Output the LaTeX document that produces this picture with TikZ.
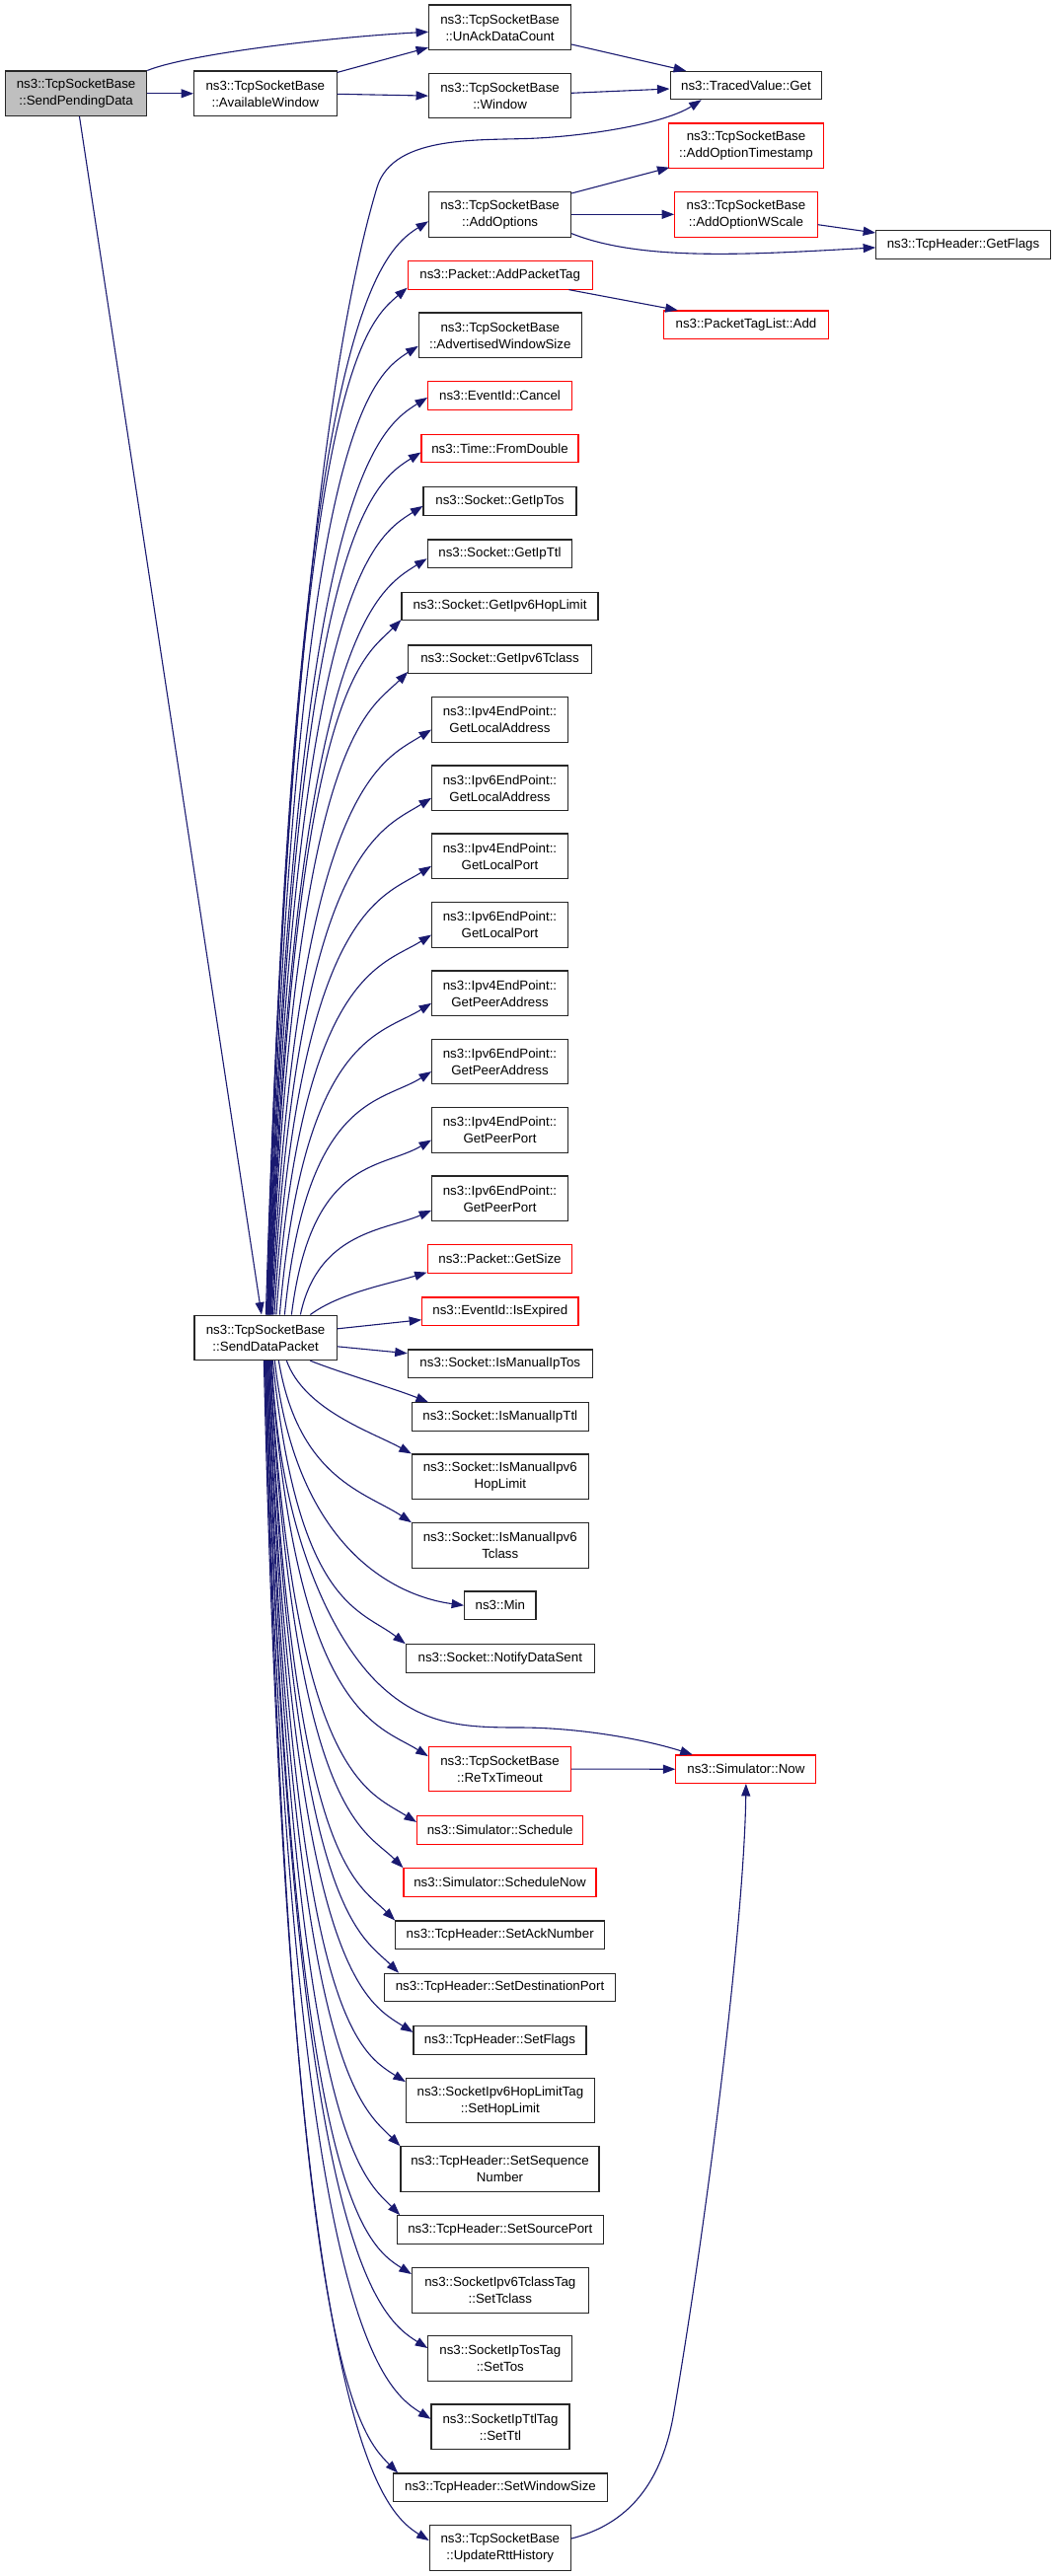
\documentclass[tikz,border=0pt]{standalone}
\usepackage{fontspec}
\newfontfamily\nodefont{Liberation Sans}
\usetikzlibrary{arrows.meta}
\definecolor{edgeblue}{HTML}{191970}
\definecolor{greyfill}{HTML}{BFBFBF}
\begin{document}
\begin{tikzpicture}[x=1pt,y=1pt,
  box/.style={draw=black!85, line width=1.1pt, fill=white, inner sep=0pt, align=center,
    font={\nodefont\fontsize{13.3pt}{17pt}\selectfont}},
  rbox/.style={box, draw=red},
  one/.style={minimum height=28.4pt},
  two/.style={minimum height=45.6pt},
  edge/.style={draw=edgeblue, line width=1.1pt, -{Triangle[length=12.5pt,width=9pt]}},
]
\useasboundingbox (0,0) rectangle (1069,-2611);
\fill[white] (0,0) rectangle (1069,-2611);

% ---------- nodes ----------
\node[box,two,fill=greyfill,minimum width=143.5pt] (SPD) at (77.1,-94.8) {ns3::TcpSocketBase\\::SendPendingData};
\node[box,two,minimum width=144.5pt] (AW) at (268.8,-94.8) {ns3::TcpSocketBase\\::AvailableWindow};
\node[box,two,minimum width=144pt] (UAD) at (506.6,-27.8) {ns3::TcpSocketBase\\::UnAckDataCount};
\node[box,two,minimum width=144pt] (WIN) at (506.6,-97.1) {ns3::TcpSocketBase\\::Window};
\node[box,one,minimum width=153.7pt] (TVG) at (755.9,-86.5) {ns3::TracedValue::Get};
\node[rbox,two,minimum width=156.6pt] (AOT) at (756,-147.8) {ns3::TcpSocketBase\\::AddOptionTimestamp};
\node[box,two,minimum width=144pt] (AO) at (506.6,-217.3) {ns3::TcpSocketBase\\::AddOptions};
\node[rbox,two,minimum width=144.3pt] (AOW) at (755.9,-217.3) {ns3::TcpSocketBase\\::AddOptionWScale};
\node[box,one,minimum width=176.6pt] (GF) at (976,-247.9) {ns3::TcpHeader::GetFlags};
\node[rbox,one,minimum width=187pt] (APT) at (506.7,-278.9) {ns3::Packet::AddPacketTag};
\node[rbox,one,minimum width=166.6pt] (PTL) at (756,-329.2) {ns3::PacketTagList::Add};
\node[box,two,minimum width=165pt] (AWS) at (506.8,-339.8) {ns3::TcpSocketBase\\::AdvertisedWindowSize};
\node[rbox,one,minimum width=145.7pt] (CAN) at (506.5,-400.9) {ns3::EventId::Cancel};
\node[rbox,one,minimum width=159pt] (FD) at (506.5,-454.5) {ns3::Time::FromDouble};
\node[box,one,minimum width=155pt] (GIT) at (506.5,-507.9) {ns3::Socket::GetIpTos};
\node[box,one,minimum width=146.7pt] (GITTL) at (506.5,-561.2) {ns3::Socket::GetIpTtl};
\node[box,one,minimum width=199pt] (GHL) at (506.5,-614.5) {ns3::Socket::GetIpv6HopLimit};
\node[box,one,minimum width=185.3pt] (GTC) at (506.5,-668.2) {ns3::Socket::GetIpv6Tclass};
\node[box,two,minimum width=137.7pt] (LA4) at (506.5,-729.5) {ns3::Ipv4EndPoint::\\GetLocalAddress};
\node[box,two,minimum width=137.7pt] (LA6) at (506.5,-798.8) {ns3::Ipv6EndPoint::\\GetLocalAddress};
\node[box,two,minimum width=137.7pt] (LP4) at (506.5,-867.8) {ns3::Ipv4EndPoint::\\GetLocalPort};
\node[box,two,minimum width=137.7pt] (LP6) at (506.5,-937.5) {ns3::Ipv6EndPoint::\\GetLocalPort};
\node[box,two,minimum width=137.7pt] (PA4) at (506.5,-1006.8) {ns3::Ipv4EndPoint::\\GetPeerAddress};
\node[box,two,minimum width=137.7pt] (PA6) at (506.5,-1076.1) {ns3::Ipv6EndPoint::\\GetPeerAddress};
\node[box,two,minimum width=137.7pt] (PP4) at (506.5,-1145.5) {ns3::Ipv4EndPoint::\\GetPeerPort};
\node[box,two,minimum width=137.7pt] (PP6) at (506.5,-1214.8) {ns3::Ipv6EndPoint::\\GetPeerPort};
\node[rbox,one,minimum width=146.7pt] (GS) at (506.5,-1275.9) {ns3::Packet::GetSize};
\node[rbox,one,minimum width=158.3pt] (IE) at (506.8,-1329.2) {ns3::EventId::IsExpired};
\node[box,two,minimum width=144.3pt] (SDP) at (269.1,-1355.85) {ns3::TcpSocketBase\\::SendDataPacket};
\node[box,one,minimum width=187pt] (IMTos) at (506.8,-1382.2) {ns3::Socket::IsManualIpTos};
\node[box,one,minimum width=178.7pt] (IMTtl) at (506.8,-1435.9) {ns3::Socket::IsManualIpTtl};
\node[box,two,minimum width=178.7pt] (IMHL) at (506.8,-1496.8) {ns3::Socket::IsManualIpv6\\HopLimit};
\node[box,two,minimum width=178.7pt] (IMTC) at (506.8,-1566.5) {ns3::Socket::IsManualIpv6\\Tclass};
\node[box,one,minimum width=72.3pt] (MIN) at (506.8,-1627.2) {ns3::Min};
\node[box,one,minimum width=191pt] (NDS) at (506.8,-1680.9) {ns3::Socket::NotifyDataSent};
\node[rbox,two,minimum width=144.3pt] (RTX) at (506.5,-1793.1) {ns3::TcpSocketBase\\::ReTxTimeout};
\node[rbox,one,minimum width=142pt] (SNOW) at (755.9,-1793.2) {ns3::Simulator::Now};
\node[rbox,one,minimum width=168.3pt] (SCH) at (506.7,-1854.9) {ns3::Simulator::Schedule};
\node[rbox,one,minimum width=195pt] (SCHN) at (506.5,-1907.9) {ns3::Simulator::ScheduleNow};
\node[box,one,minimum width=212pt] (SAN) at (506.7,-1961.2) {ns3::TcpHeader::SetAckNumber};
\node[box,one,minimum width=233.7pt] (SDPort) at (506.5,-2014.5) {ns3::TcpHeader::SetDestinationPort};
\node[box,one,minimum width=175pt] (SF) at (506.5,-2067.9) {ns3::TcpHeader::SetFlags};
\node[box,two,minimum width=191pt] (SHL) at (506.9,-2129.1) {ns3::SocketIpv6HopLimitTag\\::SetHopLimit};
\node[box,two,minimum width=201pt] (SSN) at (506.5,-2198.5) {ns3::TcpHeader::SetSequence\\Number};
\node[box,one,minimum width=208.7pt] (SSP) at (506.8,-2259.9) {ns3::TcpHeader::SetSourcePort};
\node[box,two,minimum width=178.7pt] (STC) at (506.8,-2321.5) {ns3::SocketIpv6TclassTag\\::SetTclass};
\node[box,two,minimum width=146pt] (STOS) at (506.8,-2390.5) {ns3::SocketIpTosTag\\::SetTos};
\node[box,two,minimum width=140pt] (STTL) at (507,-2459.8) {ns3::SocketIpTtlTag\\::SetTtl};
\node[box,one,minimum width=216.3pt] (SWS) at (507,-2521.2) {ns3::TcpHeader::SetWindowSize};
\node[box,two,minimum width=143.2pt] (URH) at (506.8,-2582.5) {ns3::TcpSocketBase\\::UpdateRttHistory};

% ---------- top edges ----------
\draw[edge] (SPD.east) -- (AW.west);
\draw[edge] ([xshift=-0.1pt]SPD.north east) .. controls (190,-55) and (330,-38) .. ([yshift=-4.5pt]UAD.west);
\draw[edge] ([xshift=3.4pt]SPD.south) -- ([xshift=-4.1pt]SDP.north);
\draw[edge] ([yshift=-2pt]AW.north east) -- ([yshift=3pt]UAD.south west);
\draw[edge] ([yshift=-0.5pt]AW.east) -- (WIN.west);
\draw[edge] ([yshift=-17.2pt]UAD.east) -- ([xshift=16.6pt]TVG.north west);
\draw[edge] ([yshift=2.8pt]WIN.east) -- ([yshift=-3.5pt]TVG.west);
\draw[edge] ([yshift=-2pt]AO.north east) -- ([xshift=1.3pt,yshift=1.4pt]AOT.south west);
\draw[edge] (AO.east) -- (AOW.west);
\draw[edge] ([yshift=4pt]AO.south east) .. controls (650,-265) and (760,-258) .. ([yshift=-3pt]GF.west);
\draw[edge] ([yshift=-10.4pt]AOW.east) -- ([yshift=11.9pt]GF.west);
\draw[edge] ([xshift=-24.3pt]APT.south east) -- ([xshift=14.6pt]PTL.north west);
\draw[edge] (RTX.east) -- (SNOW.west);
\draw[edge] ([yshift=9.5pt]URH.east) .. controls (630,-2560) and (668,-2525) .. (682,-2450)
  .. controls (716,-2253) and (754,-1950) .. (SNOW.south);

% SendDataPacket -> TracedValue::Get
\draw[edge] ([xshift=73pt]SDP.north west) .. controls (285,-800) and (325,-380) .. (382,-190)
  .. controls (398.5,-135) and (490,-143) .. (545,-140)
  .. controls (600,-137) and (674,-125) .. ([xshift=-45.2pt]TVG.south);

% ---------- upward fan ----------
\draw[edge] ([xshift=74pt]SDP.north west) .. controls +(25,998) and +(-51,-32) .. ([yshift=-7pt]AO.west);
\draw[edge] ([xshift=74.5pt]SDP.north west) .. controls +(25,938) and +(-45,-38) .. ([yshift=2pt]APT.south west);
\draw[edge] ([xshift=75pt]SDP.north west) .. controls +(25,884) and +(-51,-32) .. ([yshift=-11pt]AWS.west);
\draw[edge] ([xshift=75.5pt]SDP.north west) .. controls +(25,837) and +(-51,-32) .. ([yshift=-2pt]CAN.west);
\draw[edge] ([xshift=76pt]SDP.north west) .. controls +(25,787) and +(-51,-32) .. ([yshift=-4pt]FD.west);
\draw[edge] ([xshift=76.5pt]SDP.north west) .. controls +(25,738) and +(-51,-32) .. ([yshift=-5pt]GIT.west);
\draw[edge] ([xshift=77pt]SDP.north west) .. controls +(25,690) and +(-51,-32) .. ([yshift=-5pt]GITTL.west);
\draw[edge] ([xshift=77.5pt]SDP.north west) .. controls +(25,635) and +(-40,-40) .. ([yshift=1pt]GHL.south west);
\draw[edge] ([xshift=78pt]SDP.north west) .. controls +(25,588) and +(-40,-40) .. ([yshift=2pt]GTC.south west);
\draw[edge] ([xshift=79pt]SDP.north west) .. controls +(25,535) and +(-51,-32) .. ([yshift=-10pt]LA4.west);
\draw[edge] ([xshift=80pt]SDP.north west) .. controls +(25,472) and +(-51,-32) .. ([yshift=-10pt]LA6.west);
\draw[edge] ([xshift=81.5pt]SDP.north west) .. controls +(25,410) and +(-51,-32) .. ([yshift=-10pt]LP4.west);
\draw[edge] ([xshift=83.5pt]SDP.north west) .. controls +(25,347) and +(-51,-32) .. ([yshift=-10pt]LP6.west);
\draw[edge] ([xshift=87pt]SDP.north west) .. controls +(24,284) and +(-51,-32) .. ([yshift=-10pt]PA4.west);
\draw[edge] ([xshift=92pt]SDP.north west) .. controls +(22,222) and +(-51,-32) .. ([yshift=-10pt]PA6.west);
\draw[edge] ([xshift=99pt]SDP.north west) .. controls +(20,160) and +(-51,-30) .. ([yshift=-10pt]PP4.west);
\draw[edge] ([xshift=108pt]SDP.north west) .. controls +(18,85) and +(-45,-20) .. ([yshift=-12pt]PP6.west);
\draw[edge] ([xshift=118pt]SDP.north west) .. controls +(30,22) and +(-40,-12) .. ([yshift=1pt]GS.south west);
\draw[edge] ([yshift=-14.3pt]SDP.north east) -- ([yshift=-8.5pt]IE.west);
\draw[edge] ([yshift=14.4pt]SDP.south east) -- ([yshift=10.5pt]IMTos.west);

% ---------- downward fan ----------
\draw[edge] ([xshift=118pt]SDP.south west) .. controls +(30,-12) and +(-35,14) .. ([xshift=17pt]IMTtl.north west);
\draw[edge] ([xshift=94pt]SDP.south west) .. controls +(18,-50) and +(-40,22) .. (IMHL.north west);
\draw[edge] ([xshift=86pt]SDP.south west) .. controls +(20,-120) and +(-45,30) .. (IMTC.north west);
\draw[edge] ([xshift=82pt]SDP.south west) .. controls +(22,-200) and +(-60,8) .. (MIN.west);
\draw[edge] ([xshift=80pt]SDP.south west) .. controls +(25,-250) and +(-45,35) .. (NDS.north west);
\draw[edge] ([xshift=79pt]SDP.south west) .. controls (283,-1560) and (340,-1665) .. (384,-1707)
  .. controls (428,-1749) and (470,-1751) .. (527,-1751)
  .. controls (584,-1751) and (650,-1762) .. ([xshift=-54.2pt]SNOW.north);
\draw[edge] ([xshift=78pt]SDP.south west) .. controls +(25,-360) and +(-51,32) .. ([yshift=13pt]RTX.west);
\draw[edge] ([xshift=77pt]SDP.south west) .. controls +(25,-420) and +(-51,32) .. ([yshift=8pt]SCH.west);
\draw[edge] ([xshift=77pt]SDP.south west) .. controls +(25,-463) and +(-40,40) .. (SCHN.north west);
\draw[edge] ([xshift=76pt]SDP.south west) .. controls +(25,-511) and +(-40,40) .. (SAN.north west);
\draw[edge] ([xshift=76pt]SDP.south west) .. controls +(25,-560) and +(-40,40) .. ([xshift=15pt]SDPort.north west);
\draw[edge] ([xshift=75pt]SDP.south west) .. controls +(25,-613) and +(-51,32) .. ([yshift=8pt]SF.west);
\draw[edge] ([xshift=75pt]SDP.south west) .. controls +(25,-658) and +(-51,32) .. ([yshift=19pt]SHL.west);
\draw[edge] ([xshift=74pt]SDP.south west) .. controls +(25,-717) and +(-40,40) .. (SSN.north west);
\draw[edge] ([xshift=74pt]SDP.south west) .. controls +(25,-780) and +(-40,40) .. ([xshift=3.4pt]SSP.north west);
\draw[edge] ([xshift=73pt]SDP.south west) .. controls +(25,-833) and +(-51,32) .. ([yshift=16.5pt]STC.west);
\draw[edge] ([xshift=73pt]SDP.south west) .. controls +(25,-900) and +(-51,32) .. ([yshift=10.5pt]STOS.west);
\draw[edge] ([xshift=72pt]SDP.south west) .. controls +(25,-965) and +(-51,32) .. ([yshift=8pt]STTL.west);
\draw[edge] ([xshift=72pt]SDP.south west) .. controls +(25,-1015) and +(-40,40) .. ([xshift=4.8pt]SWS.north west);
\draw[edge] ([xshift=71pt]SDP.south west) .. controls +(25,-1076) and +(-51,32) .. ([yshift=7.5pt]URH.west);
\end{tikzpicture}
\end{document}
